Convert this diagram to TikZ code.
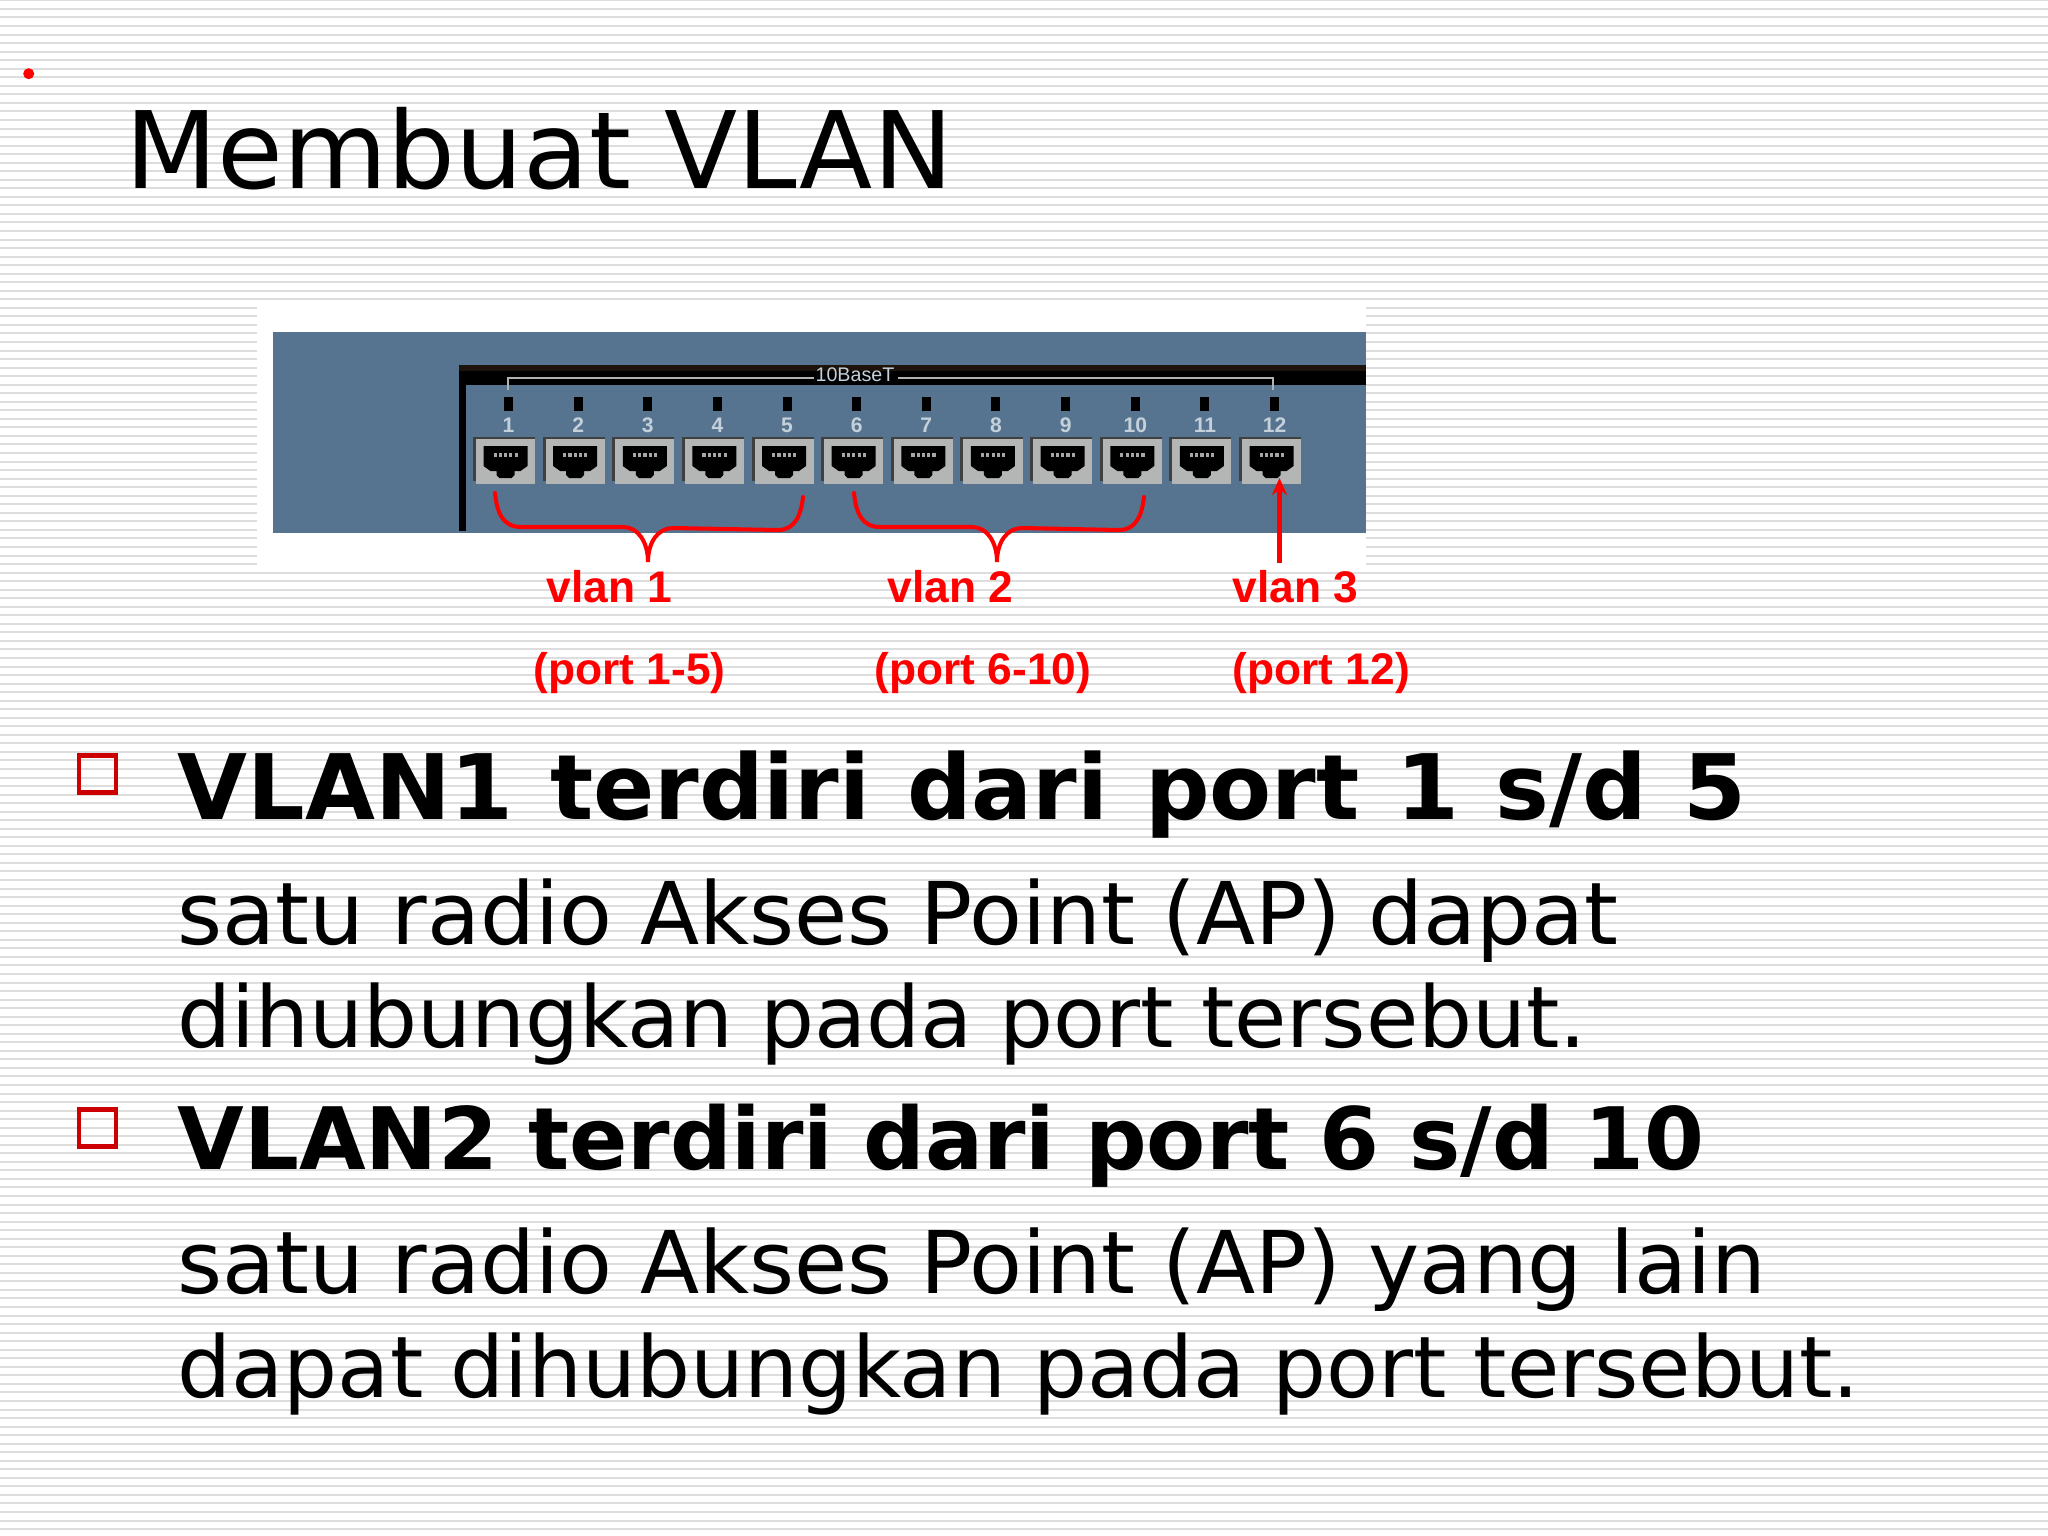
\documentclass[tikz,border=0pt]{standalone}
\usepackage{fontspec}
\setmainfont{DejaVu Sans}
\newfontfamily\labelfont{Liberation Sans}
\usetikzlibrary{arrows.meta,calc,positioning}
\definecolor{stripegray}{HTML}{DDDDDD}
\definecolor{panelblue}{HTML}{56748F}
\definecolor{portgray}{HTML}{B4B6B6}
\definecolor{numgray}{HTML}{C4D0DA}
\definecolor{boxred}{HTML}{CC0000}
\tikzset{
	portbox/.style={fill=portgray,inner sep=0pt,outer sep=0pt,minimum width=5.9mm,minimum height=4.5mm},
	led/.style={fill=black,inner sep=0pt,outer sep=0pt,minimum width=0.9mm,minimum height=1.4mm},
	portnum/.style={text=numgray,inner sep=0pt,outer sep=0pt,font=\labelfont\bfseries\fontsize{6}{7}\selectfont},
	vlantext/.style={text=red,inner sep=0pt,anchor=base west,font=\labelfont\bfseries\fontsize{12.6}{14}\selectfont},
	titletext/.style={inner sep=0pt,anchor=base west,font=\fontsize{30.4}{36}\selectfont},
	headtext/.style={inner sep=0pt,anchor=base west},
	bodytext/.style={inner sep=0pt,anchor=base west},
	bullet/.style={draw=boxred,line width=1.35pt,inner sep=0pt,minimum size=3.7mm},
	bracket/.style={draw=red,line width=1.15pt,line cap=round},
}
\begin{document}
\begin{tikzpicture}[x=0.01cm,y=-0.01cm]
	\useasboundingbox (0,0) rectangle (2048,1536);
	\fill[white] (0,0) rectangle (2048,1536);
	% striped slide background
	\foreach \k in {0,...,179}
		\fill[stripegray] (0,{0.4+8.54*\k-1}) rectangle (2048,{0.4+8.54*\k+1});
	\node[inner sep=0pt,circle,fill=red,minimum size=1.1mm] (dot) at (28.7,73.7) {};
	\node[titletext] (title) at (125,188.5) {Membuat VLAN};
	% switch panel
	\fill[white] (257,306) rectangle (1366,572);
	\fill[panelblue] (273,332) rectangle (1366,533);
	\fill[black] (459,365) rectangle (1366,385);
	\fill[black] (459,365) rectangle (466,531);
	\fill[black!85!brown] (459,365) rectangle (1366,371);
	\draw[white!70!black,line width=0.6pt] (508,390) -- (508,378) -- (814,378);
	\draw[white!70!black,line width=0.6pt] (898,378) -- (1273,378) -- (1273,390);
	\node[inner sep=0pt,text=numgray,font=\labelfont\fontsize{5.6}{7}\selectfont] (base) at (855,375) {10BaseT};
	\node[portbox] (p1) at (505.5,461) {};
	\foreach \i [remember=\i as \j (initially 1)] in {2,...,12}
		\node[portbox,right=1.06mm of p\j] (p\i) {};
	\foreach \i in {1,...,12} {
		\node[led,above=2.7mm of p\i.north,xshift=0.3mm] (l\i) {};
		\node[portnum,above=0.6mm of p\i.north,xshift=0.3mm] (n\i) {\i};
		\fill[black!75] ($(p\i.north west)+(-3,-1)$) rectangle ($(p\i.south west)+(0,-3)$);
		\fill[black!75] ($(p\i.north west)+(-3,-1)$) rectangle ($(p\i.north east)+(0,1)$);
		\fill[black,shift={(p\i.center)}] (-22,-15) -- (22,-15) -- (22,5) -- (15,10) -- (9,10) -- (9,14) -- (6,17) -- (-6,17) -- (-9,14) -- (-9,10) -- (-15,10) -- (-22,5) -- cycle;
		\draw[white!65!black,line width=1pt,dash pattern=on 0.9pt off 0.6pt,shift={(p\i.center)}] (-12,-6) -- (13,-6);
	}
	% brackets under the ports
	\coordinate (b1) at (495,493);
	\coordinate (t1) at (648,562);
	\coordinate (e1) at (803,497);
	\coordinate (b2) at (854,493);
	\coordinate (t2) at (997,562);
	\coordinate (e2) at (1144,497);
	\draw[bracket] (b1) .. controls ($(b1)+(2,20)$) and ($(b1)+(8,34)$) .. ($(b1)+(26,34)$) -- ($(t1)+(-25,-35)$) .. controls ($(t1)+(-10,-35)$) and ($(t1)+(0,-20)$) .. (t1) .. controls ($(t1)+(0,-20)$) and ($(t1)+(10,-34)$) .. ($(t1)+(25,-34)$) -- ($(e1)+(-25,33)$) .. controls ($(e1)+(-8,33)$) and ($(e1)+(-2,18)$) .. (e1);
	\draw[bracket] (b2) .. controls ($(b2)+(2,20)$) and ($(b2)+(8,34)$) .. ($(b2)+(26,34)$) -- ($(t2)+(-25,-35)$) .. controls ($(t2)+(-10,-35)$) and ($(t2)+(0,-20)$) .. (t2) .. controls ($(t2)+(0,-20)$) and ($(t2)+(10,-34)$) .. ($(t2)+(25,-34)$) -- ($(e2)+(-25,33)$) .. controls ($(e2)+(-8,33)$) and ($(e2)+(-2,18)$) .. (e2);
	\coordinate (a3) at (1279.5,563);
	\coordinate (h3) at (1279.5,478);
	\draw[draw=red,line width=1.15pt,-{Stealth[length=1.7mm,width=1.5mm]}] (a3) -- (h3);
	% red labels
	\node[vlantext] (v1) at (546,602) {vlan 1};
	\node[vlantext] (v2) at (887,602) {vlan 2};
	\node[vlantext] (v3) at (1232,602) {vlan 3};
	\node[vlantext] (q1) at (533,684) {(port 1-5)};
	\node[vlantext] (q2) at (874,684) {(port 6-10)};
	\node[vlantext] (q3) at (1232,684) {(port 12)};
	% list
	\node[bullet] (s1) at (97.5,774) {};
	\node[bullet] (s2) at (97.5,1128) {};
	\node[headtext,font=\bfseries\fontsize{25.7}{30}\selectfont] (h1) at (177,819) {\spaceskip=10.4pt\relax VLAN1 terdiri dari port 1 s/d 5};
	\node[bodytext,font=\fontsize{24.6}{30}\selectfont] (t11) at (177,944) {satu radio Akses Point (AP) dapat};
	\node[bodytext,font=\fontsize{24.2}{30}\selectfont] (t12) at (177,1047) {dihubungkan pada port tersebut.};
	\node[headtext,font=\bfseries\fontsize{24.5}{30}\selectfont] (h2) at (177,1169) {VLAN2 terdiri dari port 6 s/d 10};
	\node[bodytext,font=\fontsize{24.6}{30}\selectfont] (t21) at (177,1293) {satu radio Akses Point (AP) yang lain};
	\node[bodytext,font=\fontsize{24.2}{30}\selectfont] (t22) at (177,1397) {dapat dihubungkan pada port tersebut.};
\end{tikzpicture}
\end{document}
